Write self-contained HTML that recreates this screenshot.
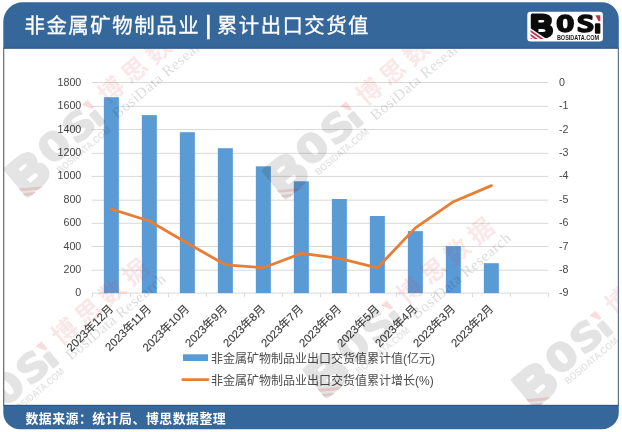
<!DOCTYPE html>
<html lang="zh-CN">
<head>
<meta charset="utf-8">
<title>非金属矿物制品业 | 累计出口交货值</title>
<style>
html,body{margin:0;padding:0;background:#fff;}
body{width:622px;height:432px;overflow:hidden;position:relative;font-family:"Liberation Sans","Noto Sans CJK SC",sans-serif;}
svg{position:absolute;left:0;top:0;display:block;}
</style>
</head>
<body>
<svg width="622" height="432" viewBox="0 0 622 432">
<path d="M22.8,2.2 H601.8 A17,17 0 0 1 618.8,19.2 V412.2 A17,17 0 0 1 601.8,429.2 H19.8 A16.5,16.5 0 0 1 3.3,412.7 V21.7 A19.5,19.5 0 0 1 22.8,2.2 Z" fill="#35679b"/>
<rect x="3.3" y="48.6" width="615.5" height="356.29999999999995" fill="#626e7b"/>
<rect x="4.3" y="48.6" width="613.5" height="356.29999999999995" fill="#ffffff"/>
<g stroke="#d9d9d9" stroke-width="1">
<line x1="91.60000000000001" y1="293.10" x2="548.4" y2="293.10"/>
<line x1="91.60000000000001" y1="270.20" x2="548.4" y2="270.20"/>
<line x1="91.60000000000001" y1="246.50" x2="548.4" y2="246.50"/>
<line x1="91.60000000000001" y1="223.30" x2="548.4" y2="223.30"/>
<line x1="91.60000000000001" y1="200.20" x2="548.4" y2="200.20"/>
<line x1="91.60000000000001" y1="176.40" x2="548.4" y2="176.40"/>
<line x1="91.60000000000001" y1="153.30" x2="548.4" y2="153.30"/>
<line x1="91.60000000000001" y1="129.60" x2="548.4" y2="129.60"/>
<line x1="91.60000000000001" y1="106.30" x2="548.4" y2="106.30"/>
<line x1="91.60000000000001" y1="82.50" x2="548.4" y2="82.50"/>
<line x1="92.40" y1="293.1" x2="92.40" y2="297.1"/>
<line x1="130.40" y1="293.1" x2="130.40" y2="297.1"/>
<line x1="168.40" y1="293.1" x2="168.40" y2="297.1"/>
<line x1="206.40" y1="293.1" x2="206.40" y2="297.1"/>
<line x1="244.40" y1="293.1" x2="244.40" y2="297.1"/>
<line x1="282.40" y1="293.1" x2="282.40" y2="297.1"/>
<line x1="320.40" y1="293.1" x2="320.40" y2="297.1"/>
<line x1="358.40" y1="293.1" x2="358.40" y2="297.1"/>
<line x1="396.40" y1="293.1" x2="396.40" y2="297.1"/>
<line x1="434.40" y1="293.1" x2="434.40" y2="297.1"/>
<line x1="472.40" y1="293.1" x2="472.40" y2="297.1"/>
<line x1="510.40" y1="293.1" x2="510.40" y2="297.1"/>
<line x1="548.40" y1="293.1" x2="548.40" y2="297.1"/>
</g>
<g fill="#5b9bd5">
<rect x="103.85" y="97.20" width="15" height="195.90"/>
<rect x="141.85" y="115.10" width="15" height="178.00"/>
<rect x="179.85" y="132.20" width="15" height="160.90"/>
<rect x="217.85" y="148.20" width="15" height="144.90"/>
<rect x="255.85" y="166.30" width="15" height="126.80"/>
<rect x="293.85" y="181.30" width="15" height="111.80"/>
<rect x="331.85" y="199.00" width="15" height="94.10"/>
<rect x="369.85" y="216.00" width="15" height="77.10"/>
<rect x="407.85" y="231.10" width="15" height="62.00"/>
<rect x="445.85" y="246.10" width="15" height="47.00"/>
<rect x="483.85" y="263.20" width="15" height="29.90"/>
</g>
<path d="M111.40,209.20 L149.40,221.00 L187.40,243.20 L225.40,264.80 L263.40,267.80 L301.40,253.40 L339.40,258.30 L377.40,267.80 L415.40,227.90 L453.40,201.70 L491.40,185.60" fill="none" stroke="#e87d34" stroke-width="2.8" stroke-linecap="round" stroke-linejoin="round"/>
<g font-size="10.7" fill="#474747" font-family="'Liberation Sans','Noto Sans CJK SC',sans-serif">
<text x="81.3" y="296.40" text-anchor="end">0</text>
<text x="559" y="296.40">-9</text>
<text x="81.3" y="273.01" text-anchor="end">200</text>
<text x="559" y="273.01">-8</text>
<text x="81.3" y="249.62" text-anchor="end">400</text>
<text x="559" y="249.62">-7</text>
<text x="81.3" y="226.23" text-anchor="end">600</text>
<text x="559" y="226.23">-6</text>
<text x="81.3" y="202.84" text-anchor="end">800</text>
<text x="559" y="202.84">-5</text>
<text x="81.3" y="179.46" text-anchor="end">1000</text>
<text x="559" y="179.46">-4</text>
<text x="81.3" y="156.07" text-anchor="end">1200</text>
<text x="559" y="156.07">-3</text>
<text x="81.3" y="132.68" text-anchor="end">1400</text>
<text x="559" y="132.68">-2</text>
<text x="81.3" y="109.29" text-anchor="end">1600</text>
<text x="559" y="109.29">-1</text>
<text x="81.3" y="85.90" text-anchor="end">1800</text>
<text x="559" y="85.90">0</text>
</g>
<g font-size="11.3" fill="#3a3a3a" stroke="#3a3a3a" stroke-width="0.12" text-anchor="end" font-family="'Liberation Sans','Noto Sans CJK SC',sans-serif">
<text transform="translate(113.90,309.60) rotate(-45)">2023年12月</text>
<text transform="translate(151.90,309.60) rotate(-45)">2023年11月</text>
<text transform="translate(189.90,309.60) rotate(-45)">2023年10月</text>
<text transform="translate(227.90,309.60) rotate(-45)">2023年9月</text>
<text transform="translate(265.90,309.60) rotate(-45)">2023年8月</text>
<text transform="translate(303.90,309.60) rotate(-45)">2023年7月</text>
<text transform="translate(341.90,309.60) rotate(-45)">2023年6月</text>
<text transform="translate(379.90,309.60) rotate(-45)">2023年5月</text>
<text transform="translate(417.90,309.60) rotate(-45)">2023年4月</text>
<text transform="translate(455.90,309.60) rotate(-45)">2023年3月</text>
<text transform="translate(493.90,309.60) rotate(-45)">2023年2月</text>
</g>
<rect x="183" y="354.3" width="25" height="6.7" fill="#5b9bd5"/>
<line x1="182.7" y1="379.6" x2="208" y2="379.6" stroke="#e87d34" stroke-width="2.6" stroke-linecap="round"/>
<g font-size="12" fill="#4d4d4d" font-family="'Liberation Sans','Noto Sans CJK SC',sans-serif">
<text x="211" y="363.0">非金属矿物制品业出口交货值累计值(亿元)</text>
<text x="211" y="384.5">非金属矿物制品业出口交货值累计增长(%)</text>
</g>
<clipPath id="wmclip"><rect x="4.3" y="48.6" width="613.5" height="356.3"/></clipPath>
<g clip-path="url(#wmclip)">
<g transform="translate(93.5,113.4) rotate(-40)">

<g transform="scale(1.58) translate(-597.6,-24.1)">
<g opacity="0.105">
<text transform="matrix(0.3155,0,0,0.3114,530.369,37.043)" font-size="100" font-family="'Liberation Sans',sans-serif" font-weight="bold" fill="#000000" stroke="#000000" stroke-width="10" stroke-linejoin="round">B</text>
</g><g opacity="0.105">
<text transform="matrix(0.3070,0,0,0.2354,555.886,32.359)" font-size="100" font-family="'DejaVu Sans Mono',sans-serif" font-weight="bold" fill="#000000" stroke="#000000" stroke-width="6" stroke-linejoin="round">O</text>
</g><g opacity="0.105">
<text transform="matrix(0.3019,0,0,0.2354,576.394,32.359)" font-size="100" font-family="'DejaVu Sans Mono',sans-serif" font-weight="bold" fill="#000000" stroke="#000000" stroke-width="6" stroke-linejoin="round">S</text>
</g><g opacity="0.105">
<text transform="matrix(0.2250,0,0,0.1354,594.450,32.623)" font-size="100" font-family="'Liberation Sans',sans-serif" font-weight="bold" fill="#000000" stroke="#000000" stroke-width="10" stroke-linejoin="round">I</text>
</g>
<g fill="#d22f3c" opacity="0.17">
<polygon points="530.6,29.9 543.6,38.9 540.4,38.9 530.6,32.1"/>
<polygon points="530.6,33.9 537.8,38.9 534.6,38.9 530.6,36.1"/>
<polygon points="595.4,15.2 600.3,15.2 600.3,21.3 598.6,21.3"/>
</g>
<text x="556.9" y="40.0" font-size="6.3" font-family="'Liberation Sans',sans-serif" font-weight="bold" fill="#000" opacity="0.105" textLength="42.2" lengthAdjust="spacingAndGlyphs">BOSIDATA.COM</text>
</g>
<text x="16" y="2.3" font-size="25" letter-spacing="5.8" font-weight="700" font-family="'Liberation Sans','Noto Sans CJK SC',sans-serif" fill="#d22f3c" opacity="0.11">博思数据</text>
<text x="14.5" y="19.8" font-size="15.3" letter-spacing="0.5" font-family="'Liberation Serif',serif" fill="#000" opacity="0.14">BosiData Research</text>

</g>
<g transform="translate(351.7,115.1) rotate(-40)">

<g transform="scale(1.58) translate(-597.6,-24.1)">
<g opacity="0.105">
<text transform="matrix(0.3155,0,0,0.3114,530.369,37.043)" font-size="100" font-family="'Liberation Sans',sans-serif" font-weight="bold" fill="#000000" stroke="#000000" stroke-width="10" stroke-linejoin="round">B</text>
</g><g opacity="0.105">
<text transform="matrix(0.3070,0,0,0.2354,555.886,32.359)" font-size="100" font-family="'DejaVu Sans Mono',sans-serif" font-weight="bold" fill="#000000" stroke="#000000" stroke-width="6" stroke-linejoin="round">O</text>
</g><g opacity="0.105">
<text transform="matrix(0.3019,0,0,0.2354,576.394,32.359)" font-size="100" font-family="'DejaVu Sans Mono',sans-serif" font-weight="bold" fill="#000000" stroke="#000000" stroke-width="6" stroke-linejoin="round">S</text>
</g><g opacity="0.105">
<text transform="matrix(0.2250,0,0,0.1354,594.450,32.623)" font-size="100" font-family="'Liberation Sans',sans-serif" font-weight="bold" fill="#000000" stroke="#000000" stroke-width="10" stroke-linejoin="round">I</text>
</g>
<g fill="#d22f3c" opacity="0.17">
<polygon points="530.6,29.9 543.6,38.9 540.4,38.9 530.6,32.1"/>
<polygon points="530.6,33.9 537.8,38.9 534.6,38.9 530.6,36.1"/>
<polygon points="595.4,15.2 600.3,15.2 600.3,21.3 598.6,21.3"/>
</g>
<text x="556.9" y="40.0" font-size="6.3" font-family="'Liberation Sans',sans-serif" font-weight="bold" fill="#000" opacity="0.105" textLength="42.2" lengthAdjust="spacingAndGlyphs">BOSIDATA.COM</text>
</g>
<text x="16" y="2.3" font-size="25" letter-spacing="5.8" font-weight="700" font-family="'Liberation Sans','Noto Sans CJK SC',sans-serif" fill="#d22f3c" opacity="0.11">博思数据</text>
<text x="14.5" y="19.8" font-size="15.3" letter-spacing="0.5" font-family="'Liberation Serif',serif" fill="#000" opacity="0.14">BosiData Research</text>

</g>
<g transform="translate(47.2,355) rotate(-40)">

<g transform="scale(1.58) translate(-597.6,-24.1)">
<g opacity="0.105">
<text transform="matrix(0.3155,0,0,0.3114,530.369,37.043)" font-size="100" font-family="'Liberation Sans',sans-serif" font-weight="bold" fill="#000000" stroke="#000000" stroke-width="10" stroke-linejoin="round">B</text>
</g><g opacity="0.105">
<text transform="matrix(0.3070,0,0,0.2354,555.886,32.359)" font-size="100" font-family="'DejaVu Sans Mono',sans-serif" font-weight="bold" fill="#000000" stroke="#000000" stroke-width="6" stroke-linejoin="round">O</text>
</g><g opacity="0.105">
<text transform="matrix(0.3019,0,0,0.2354,576.394,32.359)" font-size="100" font-family="'DejaVu Sans Mono',sans-serif" font-weight="bold" fill="#000000" stroke="#000000" stroke-width="6" stroke-linejoin="round">S</text>
</g><g opacity="0.105">
<text transform="matrix(0.2250,0,0,0.1354,594.450,32.623)" font-size="100" font-family="'Liberation Sans',sans-serif" font-weight="bold" fill="#000000" stroke="#000000" stroke-width="10" stroke-linejoin="round">I</text>
</g>
<g fill="#d22f3c" opacity="0.17">
<polygon points="530.6,29.9 543.6,38.9 540.4,38.9 530.6,32.1"/>
<polygon points="530.6,33.9 537.8,38.9 534.6,38.9 530.6,36.1"/>
<polygon points="595.4,15.2 600.3,15.2 600.3,21.3 598.6,21.3"/>
</g>
<text x="556.9" y="40.0" font-size="6.3" font-family="'Liberation Sans',sans-serif" font-weight="bold" fill="#000" opacity="0.105" textLength="42.2" lengthAdjust="spacingAndGlyphs">BOSIDATA.COM</text>
</g>
<text x="16" y="2.3" font-size="25" letter-spacing="5.8" font-weight="700" font-family="'Liberation Sans','Noto Sans CJK SC',sans-serif" fill="#d22f3c" opacity="0.11">博思数据</text>
<text x="14.5" y="19.8" font-size="15.3" letter-spacing="0.5" font-family="'Liberation Serif',serif" fill="#000" opacity="0.14">BosiData Research</text>

</g>
<g transform="translate(392.5,314) rotate(-40)">

<g transform="scale(1.58) translate(-597.6,-24.1)">
<g opacity="0.105">
<text transform="matrix(0.3155,0,0,0.3114,530.369,37.043)" font-size="100" font-family="'Liberation Sans',sans-serif" font-weight="bold" fill="#000000" stroke="#000000" stroke-width="10" stroke-linejoin="round">B</text>
</g><g opacity="0.105">
<text transform="matrix(0.3070,0,0,0.2354,555.886,32.359)" font-size="100" font-family="'DejaVu Sans Mono',sans-serif" font-weight="bold" fill="#000000" stroke="#000000" stroke-width="6" stroke-linejoin="round">O</text>
</g><g opacity="0.105">
<text transform="matrix(0.3019,0,0,0.2354,576.394,32.359)" font-size="100" font-family="'DejaVu Sans Mono',sans-serif" font-weight="bold" fill="#000000" stroke="#000000" stroke-width="6" stroke-linejoin="round">S</text>
</g><g opacity="0.105">
<text transform="matrix(0.2250,0,0,0.1354,594.450,32.623)" font-size="100" font-family="'Liberation Sans',sans-serif" font-weight="bold" fill="#000000" stroke="#000000" stroke-width="10" stroke-linejoin="round">I</text>
</g>
<g fill="#d22f3c" opacity="0.17">
<polygon points="530.6,29.9 543.6,38.9 540.4,38.9 530.6,32.1"/>
<polygon points="530.6,33.9 537.8,38.9 534.6,38.9 530.6,36.1"/>
<polygon points="595.4,15.2 600.3,15.2 600.3,21.3 598.6,21.3"/>
</g>
<text x="556.9" y="40.0" font-size="6.3" font-family="'Liberation Sans',sans-serif" font-weight="bold" fill="#000" opacity="0.105" textLength="42.2" lengthAdjust="spacingAndGlyphs">BOSIDATA.COM</text>
</g>
<text x="16" y="2.3" font-size="25" letter-spacing="5.8" font-weight="700" font-family="'Liberation Sans','Noto Sans CJK SC',sans-serif" fill="#d22f3c" opacity="0.11">博思数据</text>
<text x="14.5" y="19.8" font-size="15.3" letter-spacing="0.5" font-family="'Liberation Serif',serif" fill="#000" opacity="0.14">BosiData Research</text>

</g>
<g transform="translate(601.1,324.2) rotate(-40)">

<g transform="scale(1.58) translate(-597.6,-24.1)">
<g opacity="0.105">
<text transform="matrix(0.3155,0,0,0.3114,530.369,37.043)" font-size="100" font-family="'Liberation Sans',sans-serif" font-weight="bold" fill="#000000" stroke="#000000" stroke-width="10" stroke-linejoin="round">B</text>
</g><g opacity="0.105">
<text transform="matrix(0.3070,0,0,0.2354,555.886,32.359)" font-size="100" font-family="'DejaVu Sans Mono',sans-serif" font-weight="bold" fill="#000000" stroke="#000000" stroke-width="6" stroke-linejoin="round">O</text>
</g><g opacity="0.105">
<text transform="matrix(0.3019,0,0,0.2354,576.394,32.359)" font-size="100" font-family="'DejaVu Sans Mono',sans-serif" font-weight="bold" fill="#000000" stroke="#000000" stroke-width="6" stroke-linejoin="round">S</text>
</g><g opacity="0.105">
<text transform="matrix(0.2250,0,0,0.1354,594.450,32.623)" font-size="100" font-family="'Liberation Sans',sans-serif" font-weight="bold" fill="#000000" stroke="#000000" stroke-width="10" stroke-linejoin="round">I</text>
</g>
<g fill="#d22f3c" opacity="0.17">
<polygon points="530.6,29.9 543.6,38.9 540.4,38.9 530.6,32.1"/>
<polygon points="530.6,33.9 537.8,38.9 534.6,38.9 530.6,36.1"/>
<polygon points="595.4,15.2 600.3,15.2 600.3,21.3 598.6,21.3"/>
</g>
<text x="556.9" y="40.0" font-size="6.3" font-family="'Liberation Sans',sans-serif" font-weight="bold" fill="#000" opacity="0.105" textLength="42.2" lengthAdjust="spacingAndGlyphs">BOSIDATA.COM</text>
</g>
<text x="16" y="2.3" font-size="25" letter-spacing="5.8" font-weight="700" font-family="'Liberation Sans','Noto Sans CJK SC',sans-serif" fill="#d22f3c" opacity="0.11">博思数据</text>
<text x="14.5" y="19.8" font-size="15.3" letter-spacing="0.5" font-family="'Liberation Serif',serif" fill="#000" opacity="0.14">BosiData Research</text>

</g>
</g>
<rect x="3.3" y="47.7" width="615.5" height="0.9" fill="#2b5382"/>
<rect x="3.3" y="404.9" width="615.5" height="0.9" fill="#2b5382"/>
<g fill="#ffffff" font-family="'Liberation Sans','Noto Sans CJK SC',sans-serif">
<text x="24.4" y="32.6" font-size="20.4" letter-spacing="1.6" stroke="#ffffff" stroke-width="0.3">非金属矿物制品业</text>
<text x="208.2" y="33.7" font-size="25" text-anchor="middle" stroke="#ffffff" stroke-width="0.5">|</text>
<text x="217.0" y="32.6" font-size="20.4" letter-spacing="1.45" stroke="#ffffff" stroke-width="0.3">累计出口交货值</text>
<text x="25.4" y="422.9" font-size="12.9" font-weight="bold" letter-spacing="0.5">数据来源：统计局、博思数据整理</text>
</g>
<g transform="translate(0,0)">
<rect x="527.3" y="11.7" width="75.6" height="29.7" rx="3.2" ry="3.2" fill="#ffffff"/>
<text transform="matrix(0.3155,0,0,0.3114,530.369,37.043)" font-size="100" font-family="'Liberation Sans',sans-serif" font-weight="bold" fill="#0b0b0b" stroke="#0b0b0b" stroke-width="10" stroke-linejoin="round">B</text>
<text transform="matrix(0.3070,0,0,0.2354,555.886,32.359)" font-size="100" font-family="'DejaVu Sans Mono',sans-serif" font-weight="bold" fill="#0b0b0b" stroke="#0b0b0b" stroke-width="6" stroke-linejoin="round">O</text>
<text transform="matrix(0.3019,0,0,0.2354,576.394,32.359)" font-size="100" font-family="'DejaVu Sans Mono',sans-serif" font-weight="bold" fill="#0b0b0b" stroke="#0b0b0b" stroke-width="6" stroke-linejoin="round">S</text>
<text transform="matrix(0.2250,0,0,0.1354,594.450,32.623)" font-size="100" font-family="'Liberation Sans',sans-serif" font-weight="bold" fill="#0b0b0b" stroke="#0b0b0b" stroke-width="10" stroke-linejoin="round">I</text>
<polygon points="529,27.2 547.3,39.6 529,39.6" fill="#ffffff"/>
<polygon points="530.6,29.9 543.6,38.9 540.4,38.9 530.6,32.1" fill="#c4304c"/>
<polygon points="530.6,33.9 537.8,38.9 534.6,38.9 530.6,36.1" fill="#c4304c"/>
<polygon points="530.6,37.6 532.4,38.9 530.6,38.9" fill="#c4304c"/>
<polygon points="595.4,15.2 600.3,15.2 600.3,21.3 598.6,21.3" fill="#c4304c"/>
<text x="556.9" y="40.0" font-size="6.3" font-family="'Liberation Sans',sans-serif" font-weight="bold" fill="#1a1a1a" textLength="42.2" lengthAdjust="spacingAndGlyphs">BOSIDATA.COM</text>
</g>
</svg>
</body>
</html>
